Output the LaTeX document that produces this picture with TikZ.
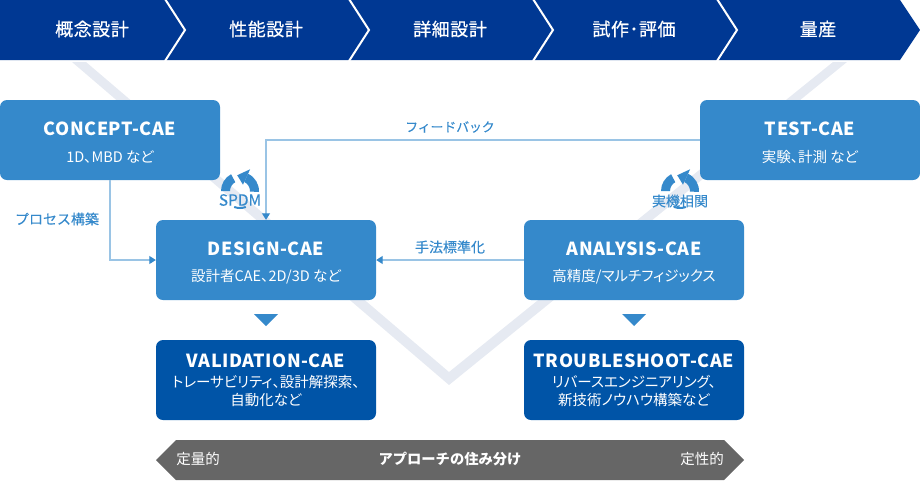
\documentclass[tikz,border=0pt]{standalone}
\usepackage{fontspec}
\setmainfont{Noto Sans CJK JP}
\newfontfamily\ttlfont[LetterSpace=3]{Noto Sans CJK JP}
\newfontfamily\phfont[LetterSpace=3,FakeBold=0.5]{Noto Sans CJK JP}
\newfontfamily\lblfont[FakeBold=0.2]{Noto Sans CJK JP}
\newfontfamily\subfont[RawFeature=+palt]{Noto Sans CJK JP}
\usetikzlibrary{arrows.meta}
\definecolor{bandblue}{HTML}{003893}
\definecolor{midblue}{HTML}{3589CB}
\definecolor{deepblue}{HTML}{0054A7}
\definecolor{linkblue}{HTML}{9AC4E5}
\definecolor{vstrip}{HTML}{E6EAF2}
\definecolor{barr}{HTML}{666666}
\tikzset{
  x=1pt,y=-1pt,
  boxbase/.style={rounded corners=7pt,minimum width=220pt,minimum height=80pt,inner sep=0pt,anchor=center},
  boxa/.style={boxbase,fill=midblue},
  boxb/.style={boxbase,fill=deepblue},
  phase/.style={text=white,font=\fontsize{18}{20}\phfont,inner sep=0pt},
  boxtitle/.style={text=white,font=\fontsize{18}{20}\bfseries\ttlfont,inner sep=0pt},
  boxsub/.style={text=white,font=\fontsize{14.5}{18}\subfont,align=center,inner sep=0pt},
  linklabel/.style={text=midblue,font=\fontsize{14}{16}\lblfont,inner sep=0pt},
  link/.style={draw=linkblue,line width=1.2pt,-{Triangle[width=8pt,length=6.5pt,fill=midblue,color=midblue]}},
  barlabel/.style={text=white,font=\fontsize{14.5}{16}\selectfont,inner sep=0pt},
  iconlabel/.style={text=midblue,font=\fontsize{14}{16}\lblfont,inner sep=0pt},
  down/.style={fill=midblue},
}
\newcommand{\ringseg}[4]{\fill[midblue] (#1:#3) arc[start angle=#1,end angle=#2,radius=#3] -- (#2:#4) arc[start angle=#2,end angle=#1,radius=#4] -- cycle;}
\newcommand{\cycleicon}{%
  \ringseg{180}{118}{19}{10}
  \ringseg{-3}{65}{19}{10}
  \fill[midblue] (65:7) -- (65:24) -- (100:16) -- cycle;
  \ringseg{250}{290}{18}{16}
}
\begin{document}
\begin{tikzpicture}
\useasboundingbox (0,0) rectangle (920,480);
% V strip
\fill[vstrip] (72,62) -- (86,62) -- (449,372) -- (833,62) -- (847,62) -- (449,385) -- cycle;
% top band
\fill[bandblue] (0,0) -- (900,0) -- (920,30) -- (900,60) -- (0,60) -- cycle;
\foreach \cx in {165,349,533,717}
  \draw[white,line width=2pt] (\cx,-1) -- (\cx+20,30) -- (\cx,61);
\node[phase] (p1) at (92,29) {概念設計};
\node[phase] (p2) at (266,29) {性能設計};
\node[phase] (p3) at (450,29) {詳細設計};
\node[phase] (p4) at (634,29) {試作･評価};
\node[phase] (p5) at (818,29) {量産};
% boxes
\node[boxa] (concept) at (110,140) {};
\node[boxa] (test) at (810,140) {};
\node[boxa] (design) at (266,260) {};
\node[boxa] (analysis) at (634,260) {};
\node[boxb] (validation) at (266,380) {};
\node[boxb] (trouble) at (634,380) {};
\node[boxtitle] (t1) at (110,129) {CONCEPT-CAE};
\node[boxsub] (s1) at (110,157) {1D、MBD など};
\node[boxtitle] (t2) at (810,129) {TEST-CAE};
\node[boxsub] (s2) at (810,157) {実験、計測 など};
\node[boxtitle] (t3) at (266,249) {DESIGN-CAE};
\node[boxsub] (s3) at (266,277) {設計者CAE、2D/3D など};
\node[boxtitle] (t4) at (634,249) {ANALYSIS-CAE};
\node[boxsub] (s4) at (634,277) {高精度/マルチフィジックス};
\node[boxtitle] (t5) at (266,361) {VALIDATION-CAE};
\node[boxsub] (s5) at (266,391) {トレーサビリティ、設計解探索、\\自動化など};
\node[boxtitle] (t6) at (634,361) {TROUBLESHOOT-CAE};
\node[boxsub] (s6) at (634,391) {リバースエンジニアリング、\\新技術ノウハウ構築など};
% connectors
\draw[link] (concept.south) |- (design.west);
\draw[link] (test.west) -| (design.north);
\draw[link] (analysis.west) -- (design.east);
\node[linklabel,font=\fontsize{12.8}{15}\lblfont] (l1) at (450,127) {フィードバック};
\node[linklabel] (l2) at (57,219) {プロセス構築};
\node[linklabel] (l3) at (450,247) {手法標準化};
% triangles
\fill[down] (254,314) -- (278,314) -- (266,326) -- cycle;
\fill[down] (622,314) -- (646,314) -- (634,326) -- cycle;
% icons
\begin{scope}[shift={(240,191)},y=1pt]\cycleicon\end{scope}
\begin{scope}[shift={(680,191)},y=1pt]\cycleicon\end{scope}
\node[iconlabel,font=\fontsize{15.5}{16}\lblfont] (i1) at (240,200) {SPDM};
\node[iconlabel] (i2) at (680,201) {実機相関};
% bottom bar
\fill[barr] (156,460) -- (176,440) -- (724,440) -- (744,460) -- (724,480) -- (176,480) -- cycle;
\node[barlabel] (b1) at (198,459) {定量的};
\node[barlabel,font=\fontsize{14.3}{16}\bfseries] (b2) at (450,459) {アプローチの住み分け};
\node[barlabel] (b3) at (702,459) {定性的};
\end{tikzpicture}
\end{document}
